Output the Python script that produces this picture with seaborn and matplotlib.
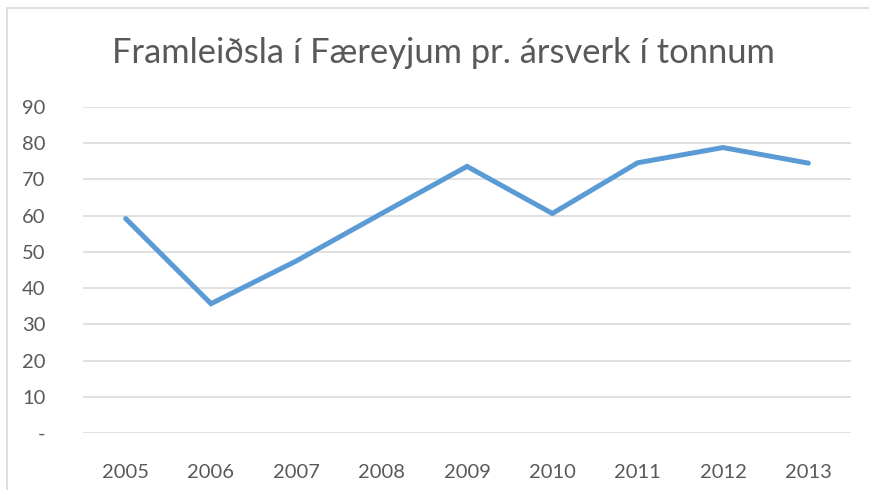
import pandas as pd
import matplotlib.pyplot as plt
import seaborn as sns
from matplotlib.patches import Rectangle

# Données
years = ['2005', '2006', '2007', '2008', '2009', '2010', '2011', '2012', '2013']
tonn = [59.2, 35.7, 47.5, 60.6, 73.6, 60.6, 74.6, 78.8, 74.5]

df = pd.DataFrame({'ar': years, 'tonn': tonn})

sns.set_theme(style='white')
plt.rcParams['font.family'] = ['Lato', 'DejaVu Sans']

fig = plt.figure(figsize=(8.69, 4.9), dpi=100)
ax = fig.add_axes([83 / 869, 1 - 433 / 490, 768 / 869, 326 / 490])

sns.lineplot(data=df, x='ar', y='tonn', ax=ax, color='#5B9BD5', linewidth=3.6,
             solid_capstyle='round', solid_joinstyle='miter', sort=False)

ax.set_xlim(-0.5, len(years) - 0.5)
ax.set_ylim(0, 90)
ax.set_yticks(range(0, 100, 10))
ax.set_yticklabels(['-'] + [str(v) for v in range(10, 100, 10)])
ax.yaxis.grid(True, color='#D9D9D9', linewidth=1.1)
ax.set_axisbelow(True)
for s in ax.spines.values():
    s.set_visible(False)
ax.tick_params(axis='both', length=0, labelsize=14.5, colors='#595959')
ax.tick_params(axis='y', pad=27)
ax.tick_params(axis='x', pad=22)
ax.set_xlabel('')
ax.set_ylabel('')

fig.text(443 / 869, 1 - 53 / 490, 'Framleiðsla í Færeyjum pr. ársverk í tonnum',
         ha='center', va='center', fontsize=24.8, color='#595959')

# ramma kringum myndina
fig.patches.append(Rectangle((6.5 / 869, -0.1), 1.0, 1 - 8 / 490 + 0.1,
                             transform=fig.transFigure, fill=False,
                             edgecolor='#D9D9D9', linewidth=1.2))

fig.savefig('out.png', dpi=100)
